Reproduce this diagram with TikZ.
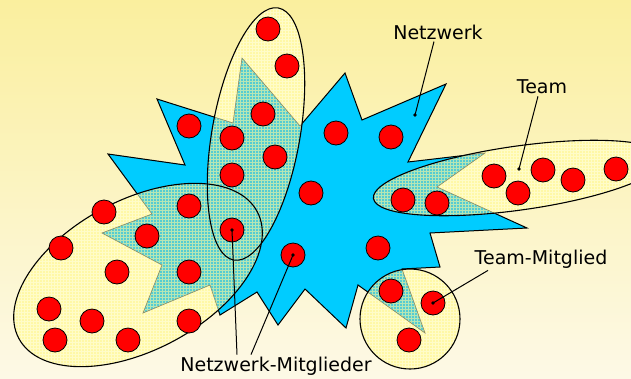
\documentclass[tikz,border=0pt]{standalone}
\usepackage{fontspec}
\setmainfont{DejaVu Sans}
\usetikzlibrary{patterns}
\definecolor{bgtop}{HTML}{FAEF9E}
\definecolor{bgbot}{HTML}{FDF9E6}
\definecolor{netblue}{HTML}{00CCFF}
\definecolor{teamyellow}{HTML}{FFF8A6}
\definecolor{teamgrid}{HTML}{FFFCC8}
\definecolor{mixteal}{HTML}{55CCD2}
\definecolor{mixgrid}{HTML}{B6E6B4}
\newcommand{\netzstern}{(157,99) -- (233,123) -- (242,58) -- (300,126) -- (345,73) -- (362,120) -- (446,84) -- (408,162) -- (485,153) -- (437,187) -- (527,228) -- (430,233) -- (440,267) -- (402,269) -- (425,333) -- (358,285) -- (346,328) -- (305,289) -- (278,325) -- (257,292) -- (220,315) -- (210,285) -- (143,313) -- (162,265) -- (102,233) -- (152,214) -- (108,154) -- (185,165) -- cycle}
\begin{document}
\begin{tikzpicture}[x=1pt,y=-1pt,
    reddot/.style={circle,draw,fill=red,line width=0.8pt,minimum size=24pt,inner sep=0pt},
    lbl/.style={font=\fontsize{19pt}{22pt}\selectfont,inner sep=2pt},
    teamA/.style={rotate around={28:(138,275)}},
    teamB/.style={rotate around={-10:(256,134)}},
    teamC/.style={rotate around={8:(519,178)}},
    ellrand/.style={draw,line width=1.1pt},
    leader/.style={line width=1pt}]
    \useasboundingbox (0,0) rectangle (631,378);
    \clip (0,0) rectangle (631,378);
    \shade [top color=bgtop,bottom color=bgbot] (0,0) rectangle (631,378);
    \fill [netblue] \netzstern;
    \draw [line width=1pt] \netzstern;
    \fill [teamyellow,teamA] (138,275) ellipse [x radius=135pt,y radius=75pt];
    \fill [teamyellow,teamB] (256,134) ellipse [x radius=44pt,y radius=128pt];
    \fill [teamyellow,teamC] (519,178) ellipse [x radius=147pt,y radius=32pt];
    \fill [teamyellow] (410,319) circle [radius=50pt];
    \fill [pattern=grid,pattern color=teamgrid,teamA] (138,275) ellipse [x radius=135pt,y radius=75pt];
    \fill [pattern=grid,pattern color=teamgrid,teamB] (256,134) ellipse [x radius=44pt,y radius=128pt];
    \fill [pattern=grid,pattern color=teamgrid,teamC] (519,178) ellipse [x radius=147pt,y radius=32pt];
    \fill [pattern=grid,pattern color=teamgrid] (410,319) circle [radius=50pt];
    \begin{scope}
        \clip [teamA] (138,275) ellipse [x radius=135pt,y radius=75pt];
        \fill [mixteal] \netzstern;
        \fill [pattern=grid,pattern color=mixgrid] \netzstern;
        \draw [gray!70!olive,line width=0.6pt] \netzstern;
    \end{scope}
    \begin{scope}
        \clip [teamB] (256,134) ellipse [x radius=44pt,y radius=128pt];
        \fill [mixteal] \netzstern;
        \fill [pattern=grid,pattern color=mixgrid] \netzstern;
        \draw [gray!70!olive,line width=0.6pt] \netzstern;
    \end{scope}
    \begin{scope}
        \clip [teamC] (519,178) ellipse [x radius=147pt,y radius=32pt];
        \fill [mixteal] \netzstern;
        \fill [pattern=grid,pattern color=mixgrid] \netzstern;
        \draw [gray!70!olive,line width=0.6pt] \netzstern;
    \end{scope}
    \begin{scope}
        \clip (410,319) circle [radius=50pt];
        \fill [mixteal] \netzstern;
        \fill [pattern=grid,pattern color=mixgrid] \netzstern;
        \draw [gray!70!olive,line width=0.6pt] \netzstern;
    \end{scope}
    \draw [ellrand,teamA] (138,275) ellipse [x radius=135pt,y radius=75pt];
    \draw [ellrand,teamB] (256,134) ellipse [x radius=44pt,y radius=128pt];
    \draw [ellrand,teamC] (519,178) ellipse [x radius=147pt,y radius=32pt];
    \draw [ellrand] (410,319) circle [radius=50pt];
    \node [reddot] (b1) at (268,29) {};
    \node [reddot] (b2) at (287,66) {};
    \node [reddot] (b3) at (263,114) {};
    \node [reddot] (b4) at (232,138) {};
    \node [reddot] (b5) at (275,157) {};
    \node [reddot] (b6) at (232,175) {};
    \node [reddot] (b7) at (232,230) {};
    \node [reddot] (n1) at (189,126) {};
    \node [reddot] (n2) at (336,133) {};
    \node [reddot] (n3) at (391,137) {};
    \node [reddot] (n4) at (311,193) {};
    \node [reddot] (n5) at (293,255) {};
    \node [reddot] (n6) at (378,248) {};
    \node [reddot] (a1) at (189,206) {};
    \node [reddot] (a2) at (147,236) {};
    \node [reddot] (a3) at (104,212) {};
    \node [reddot] (a4) at (61,248) {};
    \node [reddot] (a5) at (117,272) {};
    \node [reddot] (a6) at (189,272) {};
    \node [reddot] (a7) at (49,309) {};
    \node [reddot] (a8) at (92,321) {};
    \node [reddot] (a9) at (55,340) {};
    \node [reddot] (a10) at (128,340) {};
    \node [reddot] (a11) at (189,321) {};
    \node [reddot] (c1) at (403,200) {};
    \node [reddot] (c2) at (437,203) {};
    \node [reddot] (c3) at (494,176) {};
    \node [reddot] (c4) at (518,193) {};
    \node [reddot] (c5) at (543,170) {};
    \node [reddot] (c6) at (573,180) {};
    \node [reddot] (c7) at (616,169) {};
    \node [reddot] (d1) at (391,291) {};
    \node [reddot] (d2) at (433,303) {};
    \node [reddot] (d3) at (409,340) {};
    \coordinate (netzpunkt) at (415,115);
    \coordinate (teampunkt) at (519,169);
    \node [lbl] (netzwerk) at (438,32) {Netzwerk};
    \node [lbl] (team) at (542,87) {Team};
    \node [lbl] (teammitglied) at (541,259) {Team-Mitglied};
    \node [lbl] (netzmitglieder) at (276,366) {Netzwerk-Mitglieder};
    \draw [leader] ([xshift=-4pt]netzwerk.south) -- (netzpunkt);
    \draw [leader] ([xshift=-4pt]team.south) -- (teampunkt);
    \draw [leader] ([xshift=-53pt]teammitglied.south) -- (d2.center);
    \draw [leader] ([xshift=-39pt]netzmitglieder.north) -- (b7.center);
    \draw [leader] ([xshift=-25pt]netzmitglieder.north) -- (n5.center);
    \fill (netzpunkt) circle [radius=1.8pt];
    \fill (teampunkt) circle [radius=1.8pt];
    \fill (d2.center) circle [radius=1.8pt];
    \fill (b7.center) circle [radius=1.8pt];
    \fill (n5.center) circle [radius=1.8pt];
\end{tikzpicture}
\end{document}
